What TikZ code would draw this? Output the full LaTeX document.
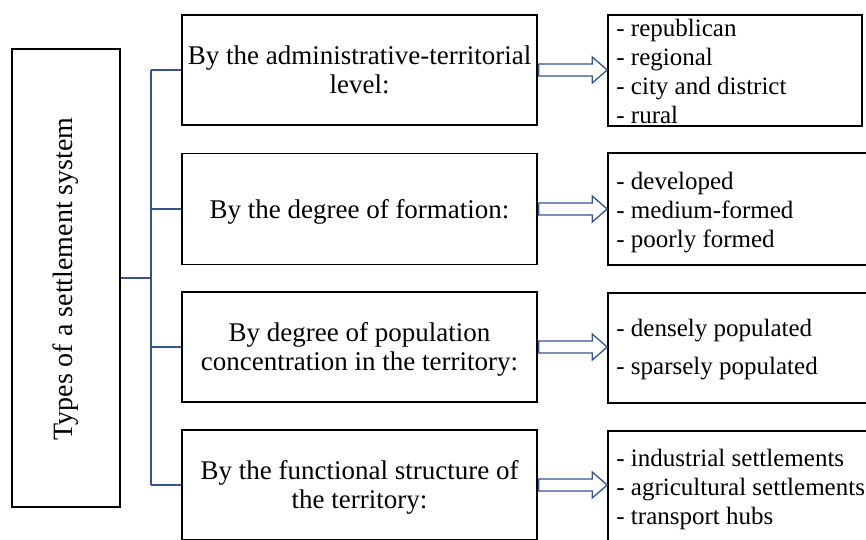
\documentclass[tikz,border=0pt]{standalone}
\usepackage{fontspec}
\setmainfont{Liberation Serif}
\usetikzlibrary{calc}
\definecolor{conn}{RGB}{47,85,151}
\newcommand{\lowered}[2]{\raisebox{-#1}[\height][\depth]{#2}}
\tikzset{
  box/.style={draw=black, line width=1.6pt, fill=white, inner sep=0pt, align=center,
              font=\fontsize{27}{29}\selectfont},
  listbox/.style={draw=black, line width=1.6pt, fill=white, inner sep=0pt},
  listtext/.style={anchor=west, inner sep=0pt, align=left, font=\fontsize{25}{29}\selectfont},
  link/.style={draw=conn, line width=1.3pt},
  blockarrow/.style={draw=conn, line width=1.3pt, fill=white, line join=miter},
}
\newcommand{\blockarr}[2]{%
  \path let \p1=(#1), \p2=(#2) in
    [blockarrow] (\x1+1pt,\y1+6pt) -- (\x2-15pt,\y1+6pt) -- (\x2-15pt,\y1+13pt)
    -- (\x2,\y1) -- (\x2-15pt,\y1-13pt) -- (\x2-15pt,\y1-6pt) -- (\x1+1pt,\y1-6pt) -- cycle;}
\begin{document}
\begin{tikzpicture}[x=1pt,y=-1pt]
\useasboundingbox (0,0) rectangle (866,539);
\clip (0,0) rectangle (866,539);
% left box
\node[box, minimum width=108pt, minimum height=458pt] (L) at (66,278) {};
\node[rotate=90, font=\fontsize{28}{30}\selectfont] (Lt) at (66,279) {Types of a settlement system};
% middle boxes
\node[box, minimum width=355pt, minimum height=110pt] (m1) at (359.5,70) {By the administrative-territorial\\level:};
\node[box, minimum width=355pt, minimum height=111pt] (m2) at (359.5,209) {\lowered{2.5pt}{By the degree of formation:}};
\node[box, minimum width=355pt, minimum height=110pt] (m3) at (359.5,347) {\lowered{2pt}{By degree of population}\\\lowered{2pt}{concentration in the territory:}};
\node[box, minimum width=355pt, minimum height=110pt] (m4) at (359.5,485) {\lowered{2pt}{By the functional structure of}\\\lowered{2pt}{the territory:}};
% right boxes
\node[listbox, minimum width=254pt, minimum height=111pt] (r1) at (735,70.5) {};
\node[listbox, minimum width=280pt, minimum height=112pt] (r2) at (748,209) {};
\node[listbox, minimum width=280pt, minimum height=110pt] (r3) at (748,348) {};
\node[listbox, minimum width=280pt, minimum height=112pt] (r4) at (748,487) {};
\node[listtext] (r1t) at ($(r1.west)+(9,1)$) {- republican\\- regional\\- city and district\\- rural};
\node[listtext] (r2t) at ($(r2.west)+(9,4)$) {- developed\\- medium-formed\\- poorly formed};
\node[listtext] (r3t) at ($(r3.west)+(9,2)$) {- densely populated\\[9pt]- sparsely populated};
\node[listtext] (r4t) at ($(r4.west)+(9,2)$) {- industrial settlements\\- agricultural settlements\\- transport hubs};
% connectors
\coordinate (J) at (151,278);
\draw[link] (L.east) -- (J);
\draw[link] (J |- m1.west) -- (J |- m4.west);
\draw[link] (J |- m1.west) -- (m1.west);
\draw[link] (J |- m2.west) -- (m2.west);
\draw[link] (J |- m3.west) -- (m3.west);
\draw[link] (J |- m4.west) -- (m4.west);
% block arrows
\blockarr{m1.east}{m1.east -| r1.west}
\blockarr{m2.east}{m2.east -| r2.west}
\blockarr{m3.east}{m3.east -| r3.west}
\blockarr{m4.east}{m4.east -| r4.west}
\end{tikzpicture}
\end{document}
